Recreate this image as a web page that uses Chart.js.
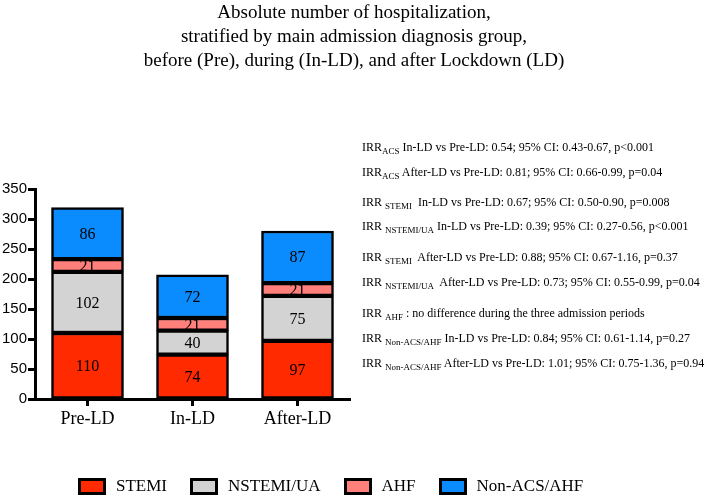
<!DOCTYPE html>
<html lang="en">
<head>
    <meta charset="UTF-8">
    <title>Absolute number of hospitalization</title>
    <script src="https://cdn.jsdelivr.net/npm/chart.js@4.4.1/dist/chart.umd.min.js"></script>
    <style>
        html, body { margin: 0; padding: 0; background: #fff; }
        #wrap { position: relative; width: 708px; height: 497px; overflow: hidden; }
        #myChart { position: absolute; left: 0; top: 0; }
        .serif { font-family: "Liberation Serif", "Times New Roman", serif; color: #000; }
        #title { position: absolute; left: 0; top: 0; width: 708px; text-align: center; font-size: 19px; line-height: 24px; }
        #notes { position: absolute; left: 362px; top: 0; font-size: 12px; white-space: nowrap; }
        #notes div { position: absolute; left: 0; }
        #notes sub { font-size: 9px; vertical-align: -3px; }
        #legend { position: absolute; left: 78px; top: 476px; display: flex; font-size: 17px; line-height: 20px; }
        #legend .item { display: flex; align-items: center; margin-right: 23px; }
        #legend .box { width: 28px; height: 17px; box-sizing: border-box; border: 3px solid #000; margin-right: 10px; }
    </style>
</head>
<body>
<div id="wrap">
    <canvas id="myChart" width="708" height="497"></canvas>
    <div id="title" class="serif">Absolute number of hospitalization,<br>stratified by main admission diagnosis group,<br>before (Pre), during (In-LD), and after Lockdown (LD)</div>
    <div id="notes" class="serif"></div>
    <div id="legend" class="serif"></div>
</div>

<script>
    window.addEventListener('load', function () {

      // ------------------------------------------------------------------ data

      var periods = ['Pre-LD', 'In-LD', 'After-LD']
      var seriesNames = ['STEMI', 'NSTEMI/UA', 'AHF', 'Non-ACS/AHF']
      var stemi = [110, 74, 97]
      var nstemi = [102, 40, 75]
      var ahf = [21, 21, 21]
      var nonAcs = [86, 72, 87]
      var yTicks = [0, 50, 100, 150, 200, 250, 300, 350]

      var notes = [
        ['IRR<sub>ACS</sub> In-LD vs Pre-LD: 0.54; 95% CI: 0.43-0.67, p&lt;0.001', 148],
        ['IRR<sub>ACS</sub> After-LD vs Pre-LD: 0.81; 95% CI: 0.66-0.99, p=0.04', 173],
        ['IRR <sub>STEMI</sub>&nbsp; In-LD vs Pre-LD: 0.67; 95% CI: 0.50-0.90, p=0.008', 203],
        ['IRR <sub>NSTEMI/UA</sub> In-LD vs Pre-LD: 0.39; 95% CI: 0.27-0.56, p&lt;0.001', 227],
        ['IRR <sub>STEMI</sub>&nbsp; After-LD vs Pre-LD: 0.88; 95% CI: 0.67-1.16, p=0.37', 258],
        ['IRR <sub>NSTEMI/UA</sub>&nbsp; After-LD vs Pre-LD: 0.73; 95% CI: 0.55-0.99, p=0.04', 283],
        ['IRR <sub>AHF</sub> : no difference during the three admission periods', 314],
        ['IRR <sub>Non-ACS/AHF</sub> In-LD vs Pre-LD: 0.84; 95% CI: 0.61-1.14, p=0.27', 339],
        ['IRR <sub>Non-ACS/AHF</sub> After-LD vs Pre-LD: 1.01; 95% CI: 0.75-1.36, p=0.94', 364]
      ]

      var colors = ['#ff2a00', '#d3d3d3', '#ff7f7b', '#0a8cff']
      var serif = '"Liberation Serif", "Times New Roman", serif'
      var sans = '"Liberation Sans", Arial, sans-serif'

      // ------------------------------------------------------------- chart.js

      var valueLabels = {
        id: 'valueLabels',
        afterDatasetsDraw: function (chart) {
          var ctx = chart.ctx
          ctx.save()
          ctx.font = '16px ' + serif
          ctx.fillStyle = '#000'
          ctx.textAlign = 'center'
          ctx.textBaseline = 'middle'
          chart.data.datasets.forEach(function (ds, i) {
            chart.getDatasetMeta(i).data.forEach(function (bar, j) {
              ctx.fillText(String(ds.data[j]), bar.x, (bar.y + bar.base) / 2 + 1)
            })
          })
          ctx.restore()
        }
      }

      var seriesData = [stemi, nstemi, ahf, nonAcs]
      var ctx = document.getElementById('myChart').getContext('2d')
      var myChart = new Chart(ctx, {
        type: 'bar',
        data: {
          labels: periods,
          datasets: seriesNames.map(function (name, i) {
            return {
              label: name,
              data: seriesData[i],
              backgroundColor: colors[i],
              borderColor: '#000',
              borderWidth: 2.5,
              borderSkipped: false,
              barThickness: 72
            }
          })
        },
        options: {
          responsive: false,
          animation: false,
          layout: { padding: { top: 189, right: 358, bottom: 58, left: 0 } },
          plugins: { legend: { display: false }, title: { display: false }, tooltip: { enabled: false } },
          scales: {
            x: {
              stacked: true,
              afterFit: function (scale) { scale.height = 40 },
              border: { color: '#000', width: 3 },
              grid: { offset: false, drawOnChartArea: false, color: '#000', tickLength: 7, tickWidth: 3 },
              ticks: { color: '#000', font: { family: serif, size: 18 }, padding: 2 }
            },
            y: {
              stacked: true,
              min: 0,
              max: 350,
              afterFit: function (scale) { scale.width = 35 },
              afterBuildTicks: function (scale) { scale.ticks = yTicks.map(function (v) { return { value: v } }) },
              border: { color: '#000', width: 3 },
              grid: { drawOnChartArea: false, color: '#000', tickLength: 7, tickWidth: 3 },
              ticks: { color: '#000', font: { family: sans, size: 15 }, padding: 1 }
            }
          }
        },
        plugins: [valueLabels]
      })

      // ------------------------------------------------------- notes + legend

      var notesEl = document.getElementById('notes')
      notes.forEach(function (n) {
        var d = document.createElement('div')
        d.innerHTML = n[0]
        d.style.top = (n[1] - 8) + 'px'
        notesEl.appendChild(d)
      })

      var legendEl = document.getElementById('legend')
      myChart.data.datasets.forEach(function (ds) {
        var item = document.createElement('div')
        item.className = 'item'
        var box = document.createElement('span')
        box.className = 'box'
        box.style.background = ds.backgroundColor
        item.appendChild(box)
        item.appendChild(document.createTextNode(ds.label))
        legendEl.appendChild(item)
      })

    })
</script>
</body>
</html>
